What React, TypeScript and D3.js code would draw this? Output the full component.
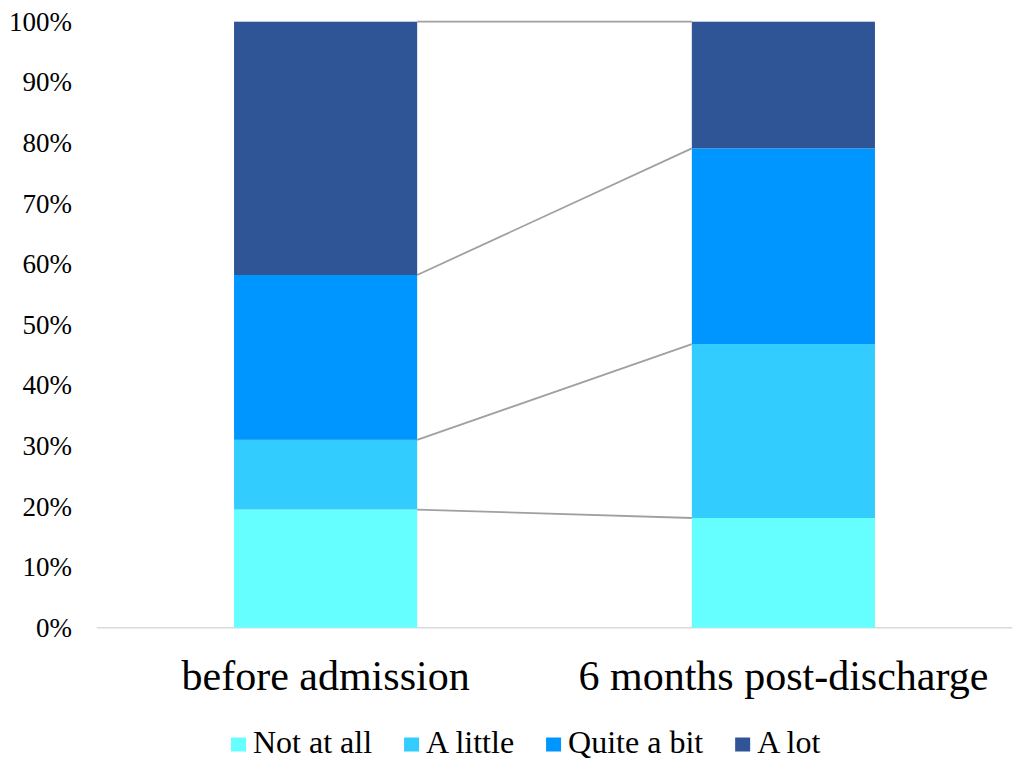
import React, { useEffect, useRef } from "react";
import * as d3 from "d3";

const categories = ["before admission", "6 months post-discharge"];
const seriesNames = ["Not at all", "A little", "Quite a bit", "A lot"];
const seriesColors = ["#66FFFF", "#33CCFF", "#0096FF", "#2F5597"];
// Percent share of each response per time point
const notAtAll = [19.5, 18.1];
const aLittle = [11.5, 28.7];
const quiteABit = [27.2, 32.3];
const aLot = [41.8, 20.9];
const tickValues = [0, 10, 20, 30, 40, 50, 60, 70, 80, 90, 100];

const W = 1013;
const H = 764;
const FONT = "'Liberation Serif', 'Times New Roman', serif";

export default function App() {
  const ref = useRef<SVGSVGElement | null>(null);

  useEffect(() => {
    document.body.style.margin = "0";
    const svg = d3.select(ref.current);
    svg.selectAll("*").remove();

    const rows = categories.map((c, i) => ({
      cat: c,
      "Not at all": notAtAll[i],
      "A little": aLittle[i],
      "Quite a bit": quiteABit[i],
      "A lot": aLot[i],
    }));
    const stacked = d3.stack<any>().keys(seriesNames)(rows);

    const y = d3.scaleLinear().domain([0, 100]).range([627.7, 21.7]);
    const x = d3.scaleBand<string>().domain(categories).range([96.7, 1012.3]);
    const barW = x.bandwidth() * 0.4;
    const barX = (c: string) => (x(c) as number) + (x.bandwidth() - barW) / 2;

    // y tick labels
    svg
      .append("g")
      .selectAll("text")
      .data(tickValues)
      .join("text")
      .attr("x", 72)
      .attr("y", (d) => y(d) + 9)
      .attr("text-anchor", "end")
      .attr("font-family", FONT)
      .attr("font-size", 27)
      .attr("fill", "#000")
      .text((d) => `${d}%`);

    // category axis line
    svg
      .append("line")
      .attr("x1", x.range()[0])
      .attr("x2", x.range()[1])
      .attr("y1", y(0))
      .attr("y2", y(0))
      .attr("stroke", "#D9D9D9")
      .attr("stroke-width", 1.6);

    // stacked bars
    const g = svg.append("g");
    stacked.forEach((s, si) => {
      g.append("g")
        .attr("fill", seriesColors[si])
        .selectAll("rect")
        .data(s)
        .join("rect")
        .attr("x", (d: any) => barX(d.data.cat))
        .attr("width", barW)
        .attr("y", (d: any) => y(d[1]))
        .attr("height", (d: any) => y(d[0]) - y(d[1]));
    });

    // series connector lines between the bars
    const lines = svg.append("g").attr("stroke", "#A0A0A0").attr("stroke-width", 1.8);
    stacked.forEach((s) => {
      for (let i = 0; i < s.length - 1; i++) {
        const a: any = s[i];
        const b: any = s[i + 1];
        lines
          .append("line")
          .attr("x1", barX(a.data.cat) + barW)
          .attr("y1", y(a[1]))
          .attr("x2", barX(b.data.cat))
          .attr("y2", y(b[1]));
      }
    });

    // category labels
    svg
      .append("g")
      .selectAll("text")
      .data(categories)
      .join("text")
      .attr("x", (d) => (x(d) as number) + x.bandwidth() / 2)
      .attr("y", 690)
      .attr("text-anchor", "middle")
      .attr("font-family", FONT)
      .attr("font-size", 42)
      .attr("fill", "#000")
      .text((d) => d);

    // legend
    const legend = svg.append("g");
    let lx = 231;
    seriesNames.forEach((name, i) => {
      legend
        .append("rect")
        .attr("x", lx)
        .attr("y", 737.5)
        .attr("width", 15)
        .attr("height", 14)
        .attr("fill", seriesColors[i]);
      const t = legend
        .append("text")
        .attr("x", lx + 22)
        .attr("y", 753)
        .attr("font-family", FONT)
        .attr("font-size", 32)
        .attr("fill", "#000")
        .text(name);
      const w = (t.node() as SVGTextElement).getComputedTextLength();
      lx += 22 + w + 32;
    });
  }, []);

  return <svg ref={ref} width={W} height={H} style={{ display: "block", background: "#fff" }} />;
}
